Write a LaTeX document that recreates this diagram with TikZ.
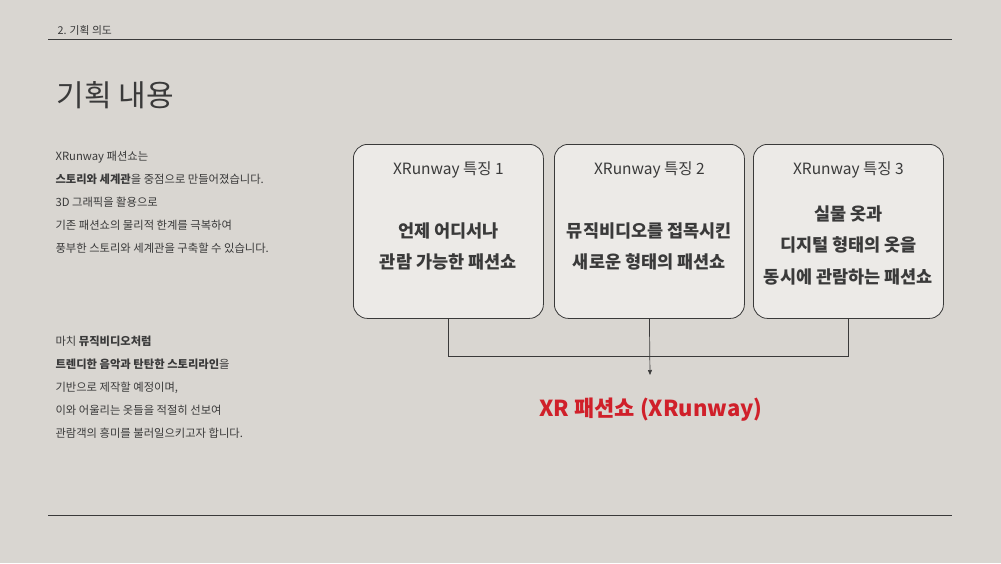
\documentclass[tikz,border=0pt]{standalone}
\usepackage{fontspec}
\setmainfont{Noto Sans CJK KR}
\usetikzlibrary{positioning,arrows.meta}
\definecolor{slidebg}{HTML}{D9D6D1}
\definecolor{cardfill}{HTML}{ECEAE7}
\definecolor{inkgray}{HTML}{3A3A3A}
\definecolor{xrred}{HTML}{D0202A}
\tikzset{
  card/.style={draw=inkgray,fill=cardfill,rounded corners=14pt,line width=0.8pt,minimum width=190pt,minimum height=174pt,anchor=north west},
  cardtitle/.style={font=\fontsize{15.5}{18}\selectfont,text=inkgray},
  cardbody/.style={font=\fontsize{17.5}{31.5}\selectfont\bfseries,text=inkgray,align=center},
  para/.style={font=\fontsize{11.3}{23}\selectfont,text=inkgray,align=left,anchor=north west},
  link/.style={draw=inkgray,line width=0.7pt}
}
\begin{document}
\begin{tikzpicture}[x=1pt,y=-1pt]
    % background and rules
    \fill[slidebg] (0,0) rectangle (1001,563);
    \useasboundingbox (0,0) rectangle (1001,563);
    \draw[inkgray,line width=1pt] (48,39) -- (952,39);
    \draw[inkgray,line width=1pt] (48,515) -- (952,515);
    \node[anchor=west,font=\fontsize{10.8}{12}\selectfont,text=inkgray] (section) at (54,30) {2. 기획 의도};
    \node[anchor=west,font=\fontsize{30}{33}\selectfont,text=inkgray] (heading) at (53,95) {기획 내용};

    % left paragraphs
    \node[para] (intro) at (52,148) {XRunway 패션쇼는\\\textbf{스토리와 세계관}을 중점으로 만들어졌습니다.\\3D 그래픽을 활용으로\\기존 패션쇼의 물리적 한계를 극복하여\\풍부한 스토리와 세계관을 구축할 수 있습니다.};
    \node[para] (plan) at (52,332) {마치 \textbf{뮤직비디오처럼}\\\textbf{트렌디한 음악과 탄탄한 스토리라인}을\\기반으로 제작할 예정이며,\\이와 어울리는 옷들을 적절히 선보여\\관람객의 흥미를 불러일으키고자 합니다.};

    % feature cards
    \node[card] (card1) at (353,144) {};
    \node[card] (card2) at (554,144) {};
    \node[card] (card3) at (753,144) {};
    \foreach \i in {1,2,3} {
        \node[cardtitle] (title\i) at ([yshift=-26pt]card\i.north) {XRunway 특징 \i};
    }
    \node[cardbody] (body1) at ([yshift=-15pt]card1.center) {언제 어디서나\\관람 가능한 패션쇼};
    \node[cardbody] (body2) at ([yshift=-15pt]card2.center) {뮤직비디오를 접목시킨\\새로운 형태의 패션쇼};
    \node[cardbody] (body3) at ([yshift=-14pt]card3.center) {실물 옷과\\디지털 형태의 옷을\\동시에 관람하는 패션쇼};

    % result
    \node[font=\fontsize{22}{25}\selectfont\bfseries,text=xrred] (result) at (651,410) {XR 패션쇼 (XRunway)};
    \coordinate (join) at (650,375);
    \draw[link] (card1.south) -- ++(0,38) -| (card3.south);
    \draw[link,-{Triangle[length=5pt,width=4pt]}] (card2.south) -- (join);
\end{tikzpicture}
\end{document}
